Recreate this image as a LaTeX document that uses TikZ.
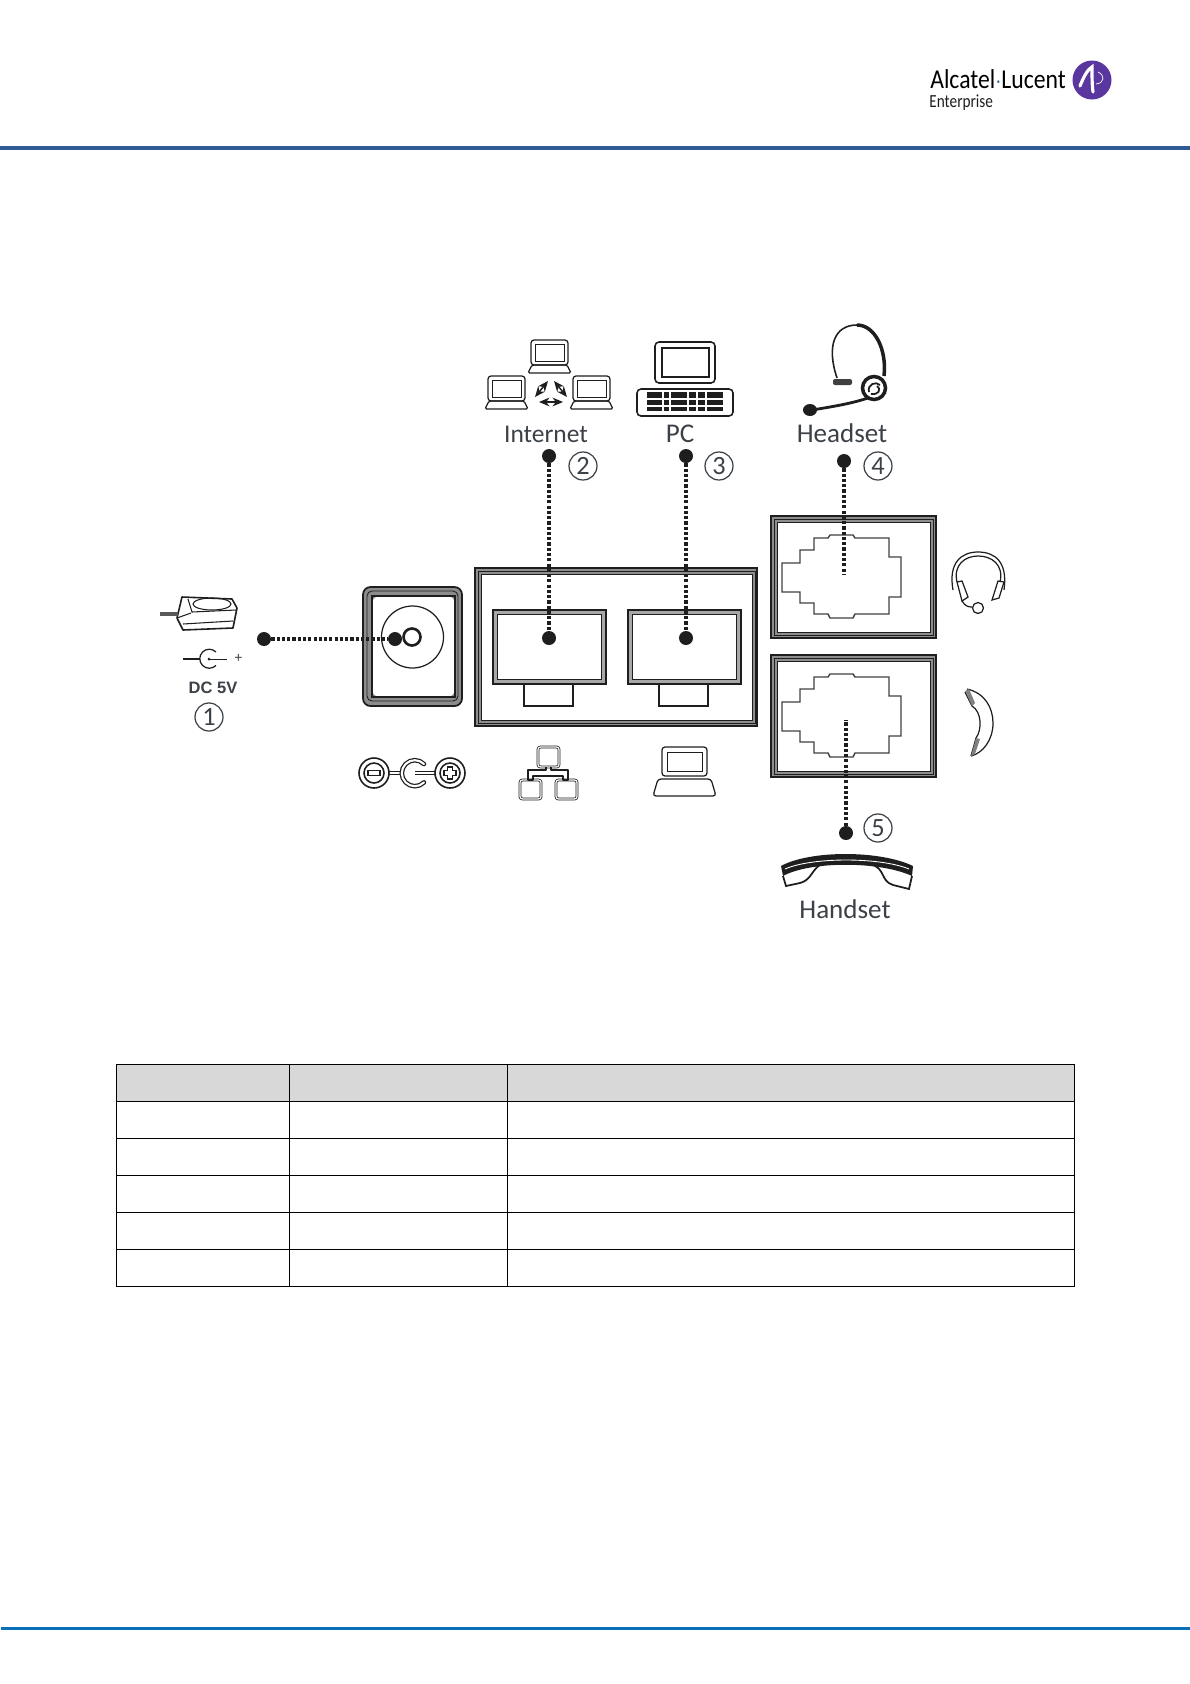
\documentclass[tikz,border=0pt]{standalone}
\usepackage{fontspec}
\setmainfont{Carlito}
\newfontfamily\dcfont{Liberation Sans}
\definecolor{topbar}{HTML}{2F5A96}
\definecolor{bottombar}{HTML}{0B6FB8}
\definecolor{logopurple}{HTML}{5A369F}
\definecolor{headgray}{HTML}{D8D8D8}
\definecolor{inkdark}{HTML}{1E1E1E}
\definecolor{labelgray}{HTML}{3C4148}
\definecolor{wallgray}{HTML}{A8A8A8}
\definecolor{walllight}{HTML}{8E8E8E}
\usetikzlibrary{arrows.meta, positioning, calc}
\tikzset{
  portdot/.style={circle, fill=inkdark, inner sep=0pt, minimum size=0.28cm},
  dotline/.style={inkdark, line width=1.9pt, dash pattern=on 1.8pt off 1.2pt},
  numnode/.style={circle, draw=labelgray, line width=0.7pt, inner sep=0pt, minimum size=0.56cm, text=labelgray, font=\fontsize{15}{15}\selectfont},
  portlabel/.style={text=labelgray, inner sep=0pt, font=\fontsize{15.4}{16}\selectfont},
  icon/.style={inkdark, line width=0.7pt},
  twoline/.style={inkdark, line width=0.45pt, double=white, double distance=0.7pt},
  tablerule/.style={black, line width=0.45pt},
  bothtips/.style={{Stealth[length=6pt,width=5pt]}-{Stealth[length=6pt,width=5pt]}, inkdark, line width=0.8pt},
}
\begin{document}
\begin{tikzpicture}[x=0.02cm, y=-0.02cm]
  \useasboundingbox (0,0) rectangle (1190,1684);
  % page bars
  \fill[topbar] (0,146) rectangle (1190,150);
  \fill[bottombar] (1,1627) rectangle (1190,1630);
  % logo
  \node[anchor=west, inner sep=0pt, text=black, xscale=0.87, transform shape, font=\fontsize{15.5}{16}\selectfont] (brand) at (930,79) {Alcatel{\color{topbar}$\cdot$}Lucent};
  \node[anchor=west, inner sep=0pt, text=inkdark, xscale=0.83, transform shape, font=\fontsize{10.5}{12}\selectfont] (division) at (929,103) {Enterprise};
  \fill[logopurple] (1092,80) circle (19.5);
  \draw[white, line width=1.8pt, line cap=round] (1080,86) .. controls (1084,76) and (1088,69) .. (1092,67) .. controls (1092,76) and (1092,85) .. (1093,92);
  \draw[white, line width=0.4pt] (1098,72) .. controls (1105,75) and (1105,83) .. (1096,84);
  % table
  \fill[headgray] (116,1064) rectangle (1074,1101);
  \draw[tablerule] (116,1064) rectangle (1074,1286);
  \foreach \rowy in {1101,1138,1175,1212,1249}
    \draw[tablerule] (116,\rowy) -- (1074,\rowy);
  \foreach \colx in {289,507}
    \draw[tablerule] (\colx,1064) -- (\colx,1286);
  % power jack frame
  \fill[black!45, even odd rule, rounded corners=1.5mm] (363,587) rectangle (462,706) (372,596) rectangle (455,697);
  \draw[inkdark, line width=1pt, rounded corners=1.5mm] (363,587) rectangle (462,706);
  \draw[inkdark, line width=0.5pt, rounded corners=1mm] (367,591) rectangle (458,701);
  \draw[inkdark, line width=0.7pt] (372,596) rectangle (455,697);
  \draw[icon] (412.5,637) circle (31);
  \draw[inkdark, line width=1.5pt] (412,637) circle (8.5);
  % network port frame
  \fill[walllight, even odd rule] (475,568) rectangle (757,726) (481,574) rectangle (752,720);
  \draw[inkdark, line width=0.7pt] (475,568) rectangle (757,726);
  \draw[inkdark, line width=0.4pt] (478,571) rectangle (755,723);
  \draw[inkdark, line width=0.5pt] (481,574) rectangle (752,720);
  \foreach \portx in {493,628} {
    \fill[wallgray, even odd rule] (\portx,610) rectangle (\portx+113,684) (\portx+4,614) rectangle (\portx+108,679);
    \draw[inkdark, line width=0.6pt] (\portx,610) rectangle (\portx+113,684);
    \draw[inkdark, line width=0.3pt] (\portx+4,614) rectangle (\portx+108,679);
    \draw[inkdark, line width=0.7pt] (\portx+31,684) rectangle (\portx+80,706);
  }
  % handset and headset frames
  \foreach \framey in {516,655} {
    \fill[walllight, even odd rule] (771,\framey) rectangle (936,\framey+122) (777,\framey+6) rectangle (930,\framey+116);
    \draw[inkdark, line width=0.7pt] (771,\framey) rectangle (936,\framey+122);
    \draw[inkdark, line width=0.4pt] (774,\framey+3) rectangle (933,\framey+119);
    \draw[inkdark, line width=0.5pt] (777,\framey+6) rectangle (930,\framey+116);
    \draw[black!75, line width=0.8pt, shift={(771,\framey)}] (11,47) -- (29,47) -- (29,34) -- (43,34) -- (43,22) -- (57,22) -- (59,19) -- (82,19) -- (84,22) -- (118,22) -- (118,41) -- (130,41) -- (130,81) -- (118,81) -- (118,98) -- (84,98) -- (82,102) -- (59,102) -- (57,98) -- (43,98) -- (43,87) -- (29,87) -- (29,76) -- (11,76) -- cycle;
  }
  % dots and connectors
  \node[portdot] (dcfree) at (264,639) {};
  \node[portdot] (dcjack) at (395,639) {};
  \node[portdot] (netfree) at (549,456) {};
  \node[portdot] (netjack) at (549,638) {};
  \node[portdot] (pcfree) at (686,456) {};
  \node[portdot] (pcjack) at (686,638) {};
  \node[portdot] (headfree) at (844,461) {};
  \coordinate (headjack) at (844,574);
  \node[portdot] (handfree) at (846,833) {};
  \coordinate (handjack) at (846,720);
  \draw[dotline] (dcfree) -- (dcjack);
  \draw[dotline] (netfree) -- (netjack);
  \draw[dotline] (pcfree) -- (pcjack);
  \draw[dotline] (headfree) -- (headjack);
  \draw[dotline] (handfree) -- (handjack);
  % labels
  \node[numnode] (numa) at (209,717) {1};
  \node[numnode] (numb) at (583,466) {2};
  \node[numnode] (numc) at (719,466) {3};
  \node[numnode] (numd) at (878,466) {4};
  \node[numnode] (nume) at (878,828) {5};
  \node[portlabel, font=\fontsize{14.5}{16}\selectfont] (internet) at (546,434) {Internet};
  \node[portlabel] (pc) at (680,434) {PC};
  \node[portlabel] (headset) at (842,433.5) {Headset};
  \node[portlabel] (handset) at (845,909.5) {Handset};
  \node[inner sep=0pt, text=labelgray, font=\dcfont\bfseries\fontsize{9.4}{10}\selectfont] (dcvolt) at (213,688) {DC 5V};
  \node[inner sep=0pt, text=labelgray, font=\dcfont\fontsize{8}{8}\selectfont] (plus) at (238.5,658.5) {+};
  % adapter
  \draw[icon, line width=0.9pt, line join=round] (182,597) -- (232,599) -- (237,608) -- (233,628) -- (183,630) -- (177,618) -- cycle;
  \draw[icon, line width=0.6pt] (188,599) -- (192,612) -- (236,610) (183,624) -- (233,621) (177,618) -- (191,613);
  \draw[icon, line width=0.6pt] (212,604) ellipse (19 and 6);
  \fill[black!65] (160,612) -- (178,612) -- (178,616) -- (160,616) -- cycle;
  % dc symbol
  \draw[inkdark, line width=1.3pt] (183,659) -- (200,659);
  \draw[icon] (216,652) arc (-45:-315:9.5);
  \fill[inkdark] (209,659) circle (1.5);
  \draw[icon, line width=0.5pt] (209,659) -- (227,659);
  % polarity symbol
  \draw[inkdark, line width=1.8pt] (388,773) -- (402,773) (415,773) -- (436,773);
  \draw[white, line width=0.7pt] (388,773) -- (402,773) (415,773) -- (436,773);
  \draw[inkdark, line width=0.9pt, fill=white] (374,773) circle (15) (374,773) circle (10);
  \draw[icon] (368,770.5) rectangle (380,775.5);
  \draw[inkdark, line width=0.9pt, fill=white] (450,773) circle (15) (450,773) circle (10);
  \draw[icon] (447.5,767) -- (452.5,767) -- (452.5,770.5) -- (456,770.5) -- (456,775.5) -- (452.5,775.5) -- (452.5,779) -- (447.5,779) -- (447.5,775.5) -- (444,775.5) -- (444,770.5) -- (447.5,770.5) -- cycle;
  \draw[inkdark, line width=2.6pt, line cap=round] (424,764) arc (-45:-315:13);
  \draw[white, line width=1.2pt, line cap=round] (424,764) arc (-45:-315:13);
  % net symbol
  \draw[twoline, fill=white, rounded corners=0.5mm] (538,747) rectangle (559,767);
  \draw[twoline, fill=white, rounded corners=0.5mm] (520,780) rectangle (541,799);
  \draw[twoline, fill=white, rounded corners=0.5mm] (556,780) rectangle (577,799);
  \draw[icon, line width=0.6pt, line join=round] (546,767) -- (546,770) -- (528,770) -- (528,780) -- (533,780) -- (533,776) -- (563,776) -- (563,780) -- (568,780) -- (568,770) -- (551,770) -- (551,767);
  % laptop symbol
  \draw[icon, rounded corners=0.6mm] (662,747) rectangle (707,776);
  \draw[icon, line width=0.5pt] (667,752) rectangle (702,771);
  \draw[icon, rounded corners=0.6mm] (658,779) -- (711,779) -- (716,796) -- (653,796) -- cycle;
  % network of laptops
  \foreach \lapx/\lapy in {531/340, 488/376, 573/376} {
    \draw[icon, rounded corners=0.6mm] (\lapx,\lapy) rectangle (\lapx+37,\lapy+25);
    \draw[icon, line width=0.5pt] (\lapx+4,\lapy+4) rectangle (\lapx+33,\lapy+21);
    \draw[icon, rounded corners=0.3mm] (\lapx+1,\lapy+25) -- (\lapx+36,\lapy+25) -- (\lapx+40,\lapy+33) -- (\lapx-3,\lapy+33) -- cycle;
  }
  \draw[bothtips] (539,402) -- (563,402);
  \draw[bothtips] (535,397) -- (548,381);
  \draw[bothtips] (554,381) -- (567,397);
  % pc
  \draw[icon, line width=0.9pt, rounded corners=0.8mm] (655,342) rectangle (715,383);
  \draw[icon] (662,348) rectangle (709,377);
  \draw[icon, line width=0.9pt, rounded corners=0.8mm] (637,389) rectangle (733,416);
  \fill[inkdark] (647,392) rectangle (723,411);
  \foreach \keyx in {663,670,688,697,706}
    \draw[white, line width=0.6pt] (\keyx,392) -- (\keyx,411);
  \foreach \keyy in {399,406}
    \draw[white, line width=0.6pt] (647,\keyy) -- (723,\keyy);
  % headset
  \draw[inkdark, line width=0.9pt] (837,378) .. controls (826,345) and (835,325) .. (857,325);
  \draw[inkdark, line width=2pt] (857,325) .. controls (875,325) and (887,350) .. (884,376);
  \fill[inkdark!85, rounded corners=0.4mm] (833,379) rectangle (852,385);
  \draw[inkdark, line width=2pt, fill=white] (874,388) circle (11.5);
  \draw[inkdark, line width=1pt] (869,392) .. controls (867,384) and (876,381) .. (880,385) (871,394) .. controls (878,395) and (882,390) .. (877,386);
  \draw[inkdark, line width=1.6pt] (868,398) .. controls (850,404) and (830,407) .. (812,410);
  \fill[inkdark] (810,410) ellipse (7 and 6);
  % small headset
  \draw[icon] (953,590) .. controls (948,562) and (962,552) .. (978,552) .. controls (995,552) and (1008,562) .. (1004,590);
  \draw[icon] (957,582) .. controls (953,565) and (965,556) .. (978,556) .. controls (992,556) and (1004,565) .. (1000,582);
  \draw[icon, fill=white] (957,582) -- (962,581) -- (968,597) -- (962,601) -- cycle;
  \draw[icon, fill=white] (998,581) -- (1004,582) -- (999,598) -- (992,600) -- cycle;
  \draw[icon] (962,601) .. controls (965,606) and (968,607) .. (972,607);
  \draw[icon, fill=white] (978,608) circle (5.5);
  % side handset
  \draw[icon] (967,689) .. controls (985,693) and (993,708) .. (993,723) .. controls (993,740) and (983,753) .. (971,756);
  \draw[icon] (965,692) -- (972,706) .. controls (982,712) and (982,730) .. (976,738) -- (971,756);
  \fill[black!50] (965,691) -- (969,689) -- (975,703) -- (972,706) -- cycle;
  \fill[black!50] (971,756) -- (975,754) -- (980,739) -- (976,738) -- cycle;
  % handset
  \fill[inkdark] (781,866) .. controls (810,850) and (880,850) .. (913,866) -- (912,876) .. controls (880,861) and (810,861) .. (783,876) -- cycle;
  \draw[white, line width=0.5pt] (785,869) .. controls (812,857) and (880,857) .. (909,869);
  \draw[icon, line width=1pt] (783,876) -- (786,886) -- (800,883) .. controls (812,880) and (812,868) .. (822,864);
  \draw[icon, line width=1pt] (912,876) -- (909,889) -- (893,885) .. controls (880,881) and (886,868) .. (870,864);
\end{tikzpicture}
\end{document}
